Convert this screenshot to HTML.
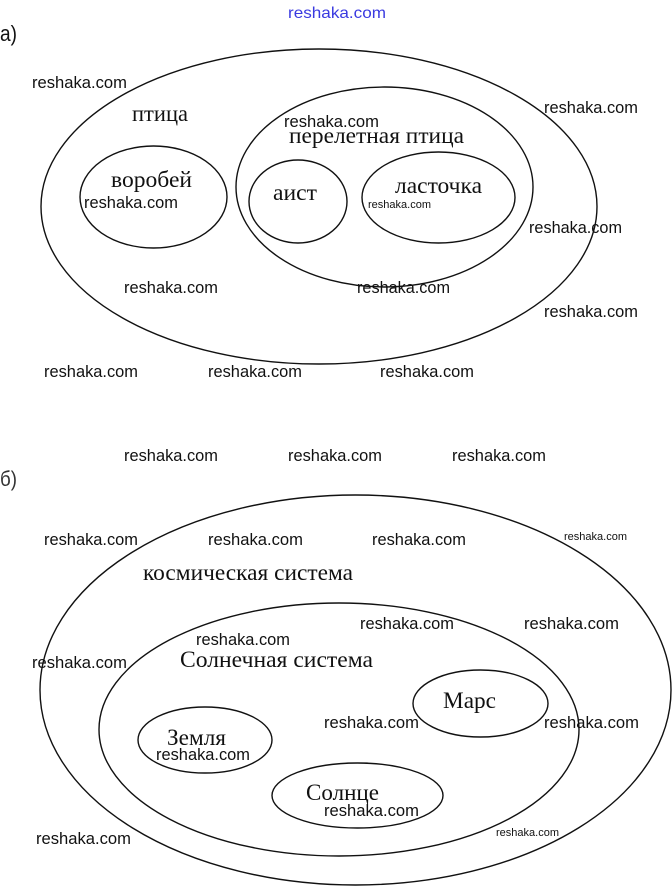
<!DOCTYPE html>
<html>
<head>
<meta charset="utf-8">
<style>
html,body{margin:0;padding:0;background:#fff;}
svg{display:block;}
.w{font-family:"Liberation Sans",sans-serif;font-size:16.5px;fill:#111;}
.ws{font-family:"Liberation Sans",sans-serif;font-size:11px;fill:#111;}
.l{font-family:"Liberation Serif","Noto Serif CJK SC",serif;font-size:23px;fill:#111;}
.e{fill:none;stroke:#111;stroke-width:1.4;}
</style>
</head>
<body>
<svg width="672" height="887" viewBox="0 0 672 887" xmlns="http://www.w3.org/2000/svg">
<!-- top blue watermark -->
<text x="288" y="18" font-family="Liberation Sans, sans-serif" font-size="16" fill="#3a3ae0" textLength="98" lengthAdjust="spacingAndGlyphs">reshaka.com</text>

<!-- а) -->
<text x="0" y="41" font-family="Liberation Sans, sans-serif" font-size="22" fill="#111" textLength="17" lengthAdjust="spacingAndGlyphs">а)</text>

<!-- Section a ellipses -->
<ellipse class="e" cx="319" cy="206.5" rx="278" ry="157.5"/>
<ellipse class="e" cx="153.5" cy="197" rx="73.5" ry="51"/>
<ellipse class="e" cx="384.5" cy="187" rx="148.5" ry="100"/>
<ellipse class="e" cx="298" cy="201.5" rx="49" ry="41.5"/>
<ellipse class="e" cx="438.5" cy="197.5" rx="76.5" ry="45.5"/>

<!-- Section a labels -->
<text class="l" x="132" y="121" textLength="56" lengthAdjust="spacingAndGlyphs">птица</text>
<text class="l" x="111" y="187" textLength="81" lengthAdjust="spacingAndGlyphs">воробей</text>
<text class="l" x="289" y="143" textLength="175" lengthAdjust="spacingAndGlyphs">перелетная птица</text>
<text class="l" x="273" y="200" textLength="44" lengthAdjust="spacingAndGlyphs">аист</text>
<text class="l" x="395" y="193" textLength="87" lengthAdjust="spacingAndGlyphs">ласточка</text>

<!-- Section a watermarks -->
<text class="w" x="32" y="88" textLength="95" lengthAdjust="spacingAndGlyphs">reshaka.com</text>
<text class="w" x="544" y="113" textLength="94" lengthAdjust="spacingAndGlyphs">reshaka.com</text>
<text class="w" x="284" y="127" textLength="95" lengthAdjust="spacingAndGlyphs">reshaka.com</text>
<text class="w" x="84" y="208" textLength="94" lengthAdjust="spacingAndGlyphs">reshaka.com</text>
<text class="ws" x="368" y="208" textLength="63" lengthAdjust="spacingAndGlyphs">reshaka.com</text>
<text class="w" x="529" y="233" textLength="93" lengthAdjust="spacingAndGlyphs">reshaka.com</text>
<text class="w" x="124" y="293" textLength="94" lengthAdjust="spacingAndGlyphs">reshaka.com</text>
<text class="w" x="357" y="293" textLength="93" lengthAdjust="spacingAndGlyphs">reshaka.com</text>
<text class="w" x="544" y="317" textLength="94" lengthAdjust="spacingAndGlyphs">reshaka.com</text>
<text class="w" x="44" y="377" textLength="94" lengthAdjust="spacingAndGlyphs">reshaka.com</text>
<text class="w" x="208" y="377" textLength="94" lengthAdjust="spacingAndGlyphs">reshaka.com</text>
<text class="w" x="380" y="377" textLength="94" lengthAdjust="spacingAndGlyphs">reshaka.com</text>

<!-- Section b watermarks row -->
<text class="w" x="124" y="461" textLength="94" lengthAdjust="spacingAndGlyphs">reshaka.com</text>
<text class="w" x="288" y="461" textLength="94" lengthAdjust="spacingAndGlyphs">reshaka.com</text>
<text class="w" x="452" y="461" textLength="94" lengthAdjust="spacingAndGlyphs">reshaka.com</text>

<!-- б) -->
<text x="0" y="486" font-family="Liberation Sans, sans-serif" font-size="21" fill="#333" textLength="17" lengthAdjust="spacingAndGlyphs">б)</text>

<!-- Section b ellipses -->
<ellipse class="e" cx="355.5" cy="690" rx="315.5" ry="195"/>
<ellipse class="e" cx="339" cy="729.5" rx="240" ry="126.5"/>
<ellipse class="e" cx="480.5" cy="703.5" rx="67.5" ry="33.5"/>
<ellipse class="e" cx="205" cy="740" rx="67" ry="33"/>
<ellipse class="e" cx="357.5" cy="795.5" rx="85.5" ry="32.5"/>

<!-- Section b labels -->
<text class="l" x="143" y="580" textLength="210" lengthAdjust="spacingAndGlyphs">космическая система</text>
<text class="l" x="180" y="667" textLength="193" lengthAdjust="spacingAndGlyphs">Солнечная система</text>
<text class="l" x="443" y="708" textLength="53" lengthAdjust="spacingAndGlyphs">Марс</text>
<text class="l" x="167" y="745" textLength="59" lengthAdjust="spacingAndGlyphs">Земля</text>
<text class="l" x="306" y="800" textLength="73" lengthAdjust="spacingAndGlyphs">Солнце</text>

<!-- Section b watermarks -->
<text class="w" x="44" y="545" textLength="94" lengthAdjust="spacingAndGlyphs">reshaka.com</text>
<text class="w" x="208" y="545" textLength="95" lengthAdjust="spacingAndGlyphs">reshaka.com</text>
<text class="w" x="372" y="545" textLength="94" lengthAdjust="spacingAndGlyphs">reshaka.com</text>
<text class="ws" x="564" y="540" textLength="63" lengthAdjust="spacingAndGlyphs">reshaka.com</text>
<text class="w" x="196" y="645" textLength="94" lengthAdjust="spacingAndGlyphs">reshaka.com</text>
<text class="w" x="360" y="629" textLength="94" lengthAdjust="spacingAndGlyphs">reshaka.com</text>
<text class="w" x="524" y="629" textLength="95" lengthAdjust="spacingAndGlyphs">reshaka.com</text>
<text class="w" x="32" y="668" textLength="95" lengthAdjust="spacingAndGlyphs">reshaka.com</text>
<text class="w" x="324" y="728" textLength="95" lengthAdjust="spacingAndGlyphs">reshaka.com</text>
<text class="w" x="544" y="728" textLength="95" lengthAdjust="spacingAndGlyphs">reshaka.com</text>
<text class="w" x="156" y="760" textLength="94" lengthAdjust="spacingAndGlyphs">reshaka.com</text>
<text class="w" x="324" y="816" textLength="95" lengthAdjust="spacingAndGlyphs">reshaka.com</text>
<text class="w" x="36" y="844" textLength="95" lengthAdjust="spacingAndGlyphs">reshaka.com</text>
<text class="ws" x="496" y="836" textLength="63" lengthAdjust="spacingAndGlyphs">reshaka.com</text>
</svg>
</body>
</html>
